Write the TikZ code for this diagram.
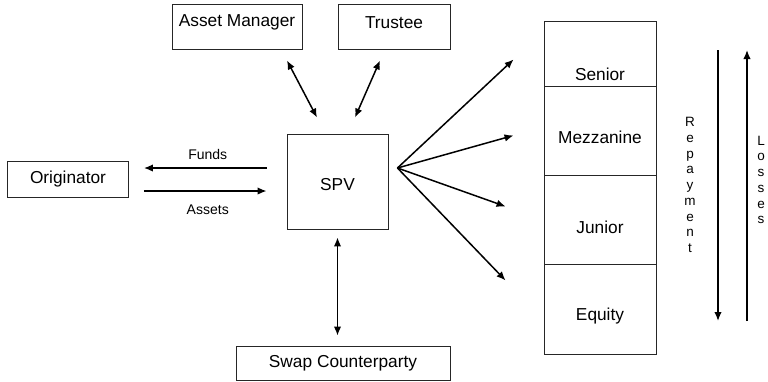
\documentclass[tikz,border=0pt]{standalone}
\usepackage{fontspec}
\setmainfont{Liberation Sans}
\usetikzlibrary{arrows.meta,calc}
\begin{document}
\begin{tikzpicture}[x=1pt,y=-1pt,
  font=\fontsize{17.3}{20}\selectfont,
  box/.style={draw=black!85,line width=0.9pt,inner sep=0pt},
  cell/.style={box,minimum width=112pt,anchor=north},
  arr/.style={line width=1.5pt,-{Latex[length=9pt,width=7.5pt]}},
  darr/.style={line width=1.5pt,{Latex[length=9pt,width=7.5pt]}-{Latex[length=9pt,width=7.5pt]}},
  small/.style={font=\fontsize{14}{16}\selectfont},
  vtext/.style={align=center,inner sep=0pt,font=\fontsize{13.5}{15.75}\selectfont}]
\useasboundingbox (0,0) rectangle (768,381);
% boxes
\node[box,minimum width=121pt,minimum height=36pt] (orig) at (68,179) {Originator};
\node[box,minimum width=130pt,minimum height=45pt,label={[yshift=4pt]center:Asset Manager}] (am) at (237,26.5) {};
\node[box,minimum width=112pt,minimum height=45pt,label={[yshift=4pt]center:Trustee}] (tr) at (394,26.5) {};
\node[box,minimum width=101pt,minimum height=95pt,label={[yshift=-3.5pt]center:SPV}] (spv) at (337.5,181.5) {};
\node[box,minimum width=214pt,minimum height=34pt] (swap) at (343,363) {Swap Counterparty};
% tranches
\node[cell,minimum height=65pt,label={[yshift=-20.5pt]center:Senior}] (sen) at (600,21) {};
\node[cell,minimum height=89pt,label={[yshift=-6.5pt]center:Mezzanine}] (mez) at (600,86) {};
\node[cell,minimum height=89pt,label={[yshift=-7.5pt]center:Junior}] (jun) at (600,175) {};
\node[cell,minimum height=90pt,label={[yshift=-7pt]center:Equity}] (equ) at (600,264) {};
% originator <-> spv
\coordinate (f1) at ([yshift=13.5pt]spv.west);
\coordinate (a1) at ([yshift=-9.5pt]spv.west);
\draw[arr,shorten <=20pt,shorten >=15pt] (f1) -- (f1 -| orig.east)
  node[small,midway,above=4pt] (funds) {Funds};
\draw[arr,shorten <=15pt,shorten >=20pt] (a1 -| orig.east) -- (a1)
  node[small,midway,below=10pt] (assets) {Assets};
% top
\draw[darr] ([xshift=50pt,yshift=-11pt]am.south) -- ([xshift=-20.5pt,yshift=16pt]spv.north);
\draw[darr] ([xshift=-14pt,yshift=-11pt]tr.south) -- ([xshift=17.5pt,yshift=16pt]spv.north);
% bottom
\coordinate (s1) at ([yshift=-8pt]spv.south);
\draw[darr,shorten >=10pt] (s1) -- (s1 |- swap.north);
% fan
\coordinate (fan) at ([xshift=9pt,yshift=13.5pt]spv.east);
\draw[arr] (fan) -- ([xshift=-30pt,yshift=-5.5pt]sen.west);
\draw[arr] (fan) -- ([xshift=-30pt,yshift=-4.5pt]mez.west);
\draw[arr] (fan) -- ([xshift=-38pt,yshift=13.5pt]jun.west);
\draw[arr] (fan) -- ([xshift=-38pt,yshift=29pt]equ.west);
% repayment / losses
\coordinate (rt) at (718,50);
\coordinate (rb) at (718,321);
\coordinate (lt) at (747,50);
\coordinate (lb) at (747,321);
\draw[arr] (rt) -- (rb);
\draw[arr] (lb) -- (lt);
\node[vtext] (rep) at (690,185) {R\\e\\p\\a\\y\\m\\e\\n\\t};
\node[vtext] (los) at (761,180) {L\\o\\s\\s\\e\\s};
\end{tikzpicture}
\end{document}
